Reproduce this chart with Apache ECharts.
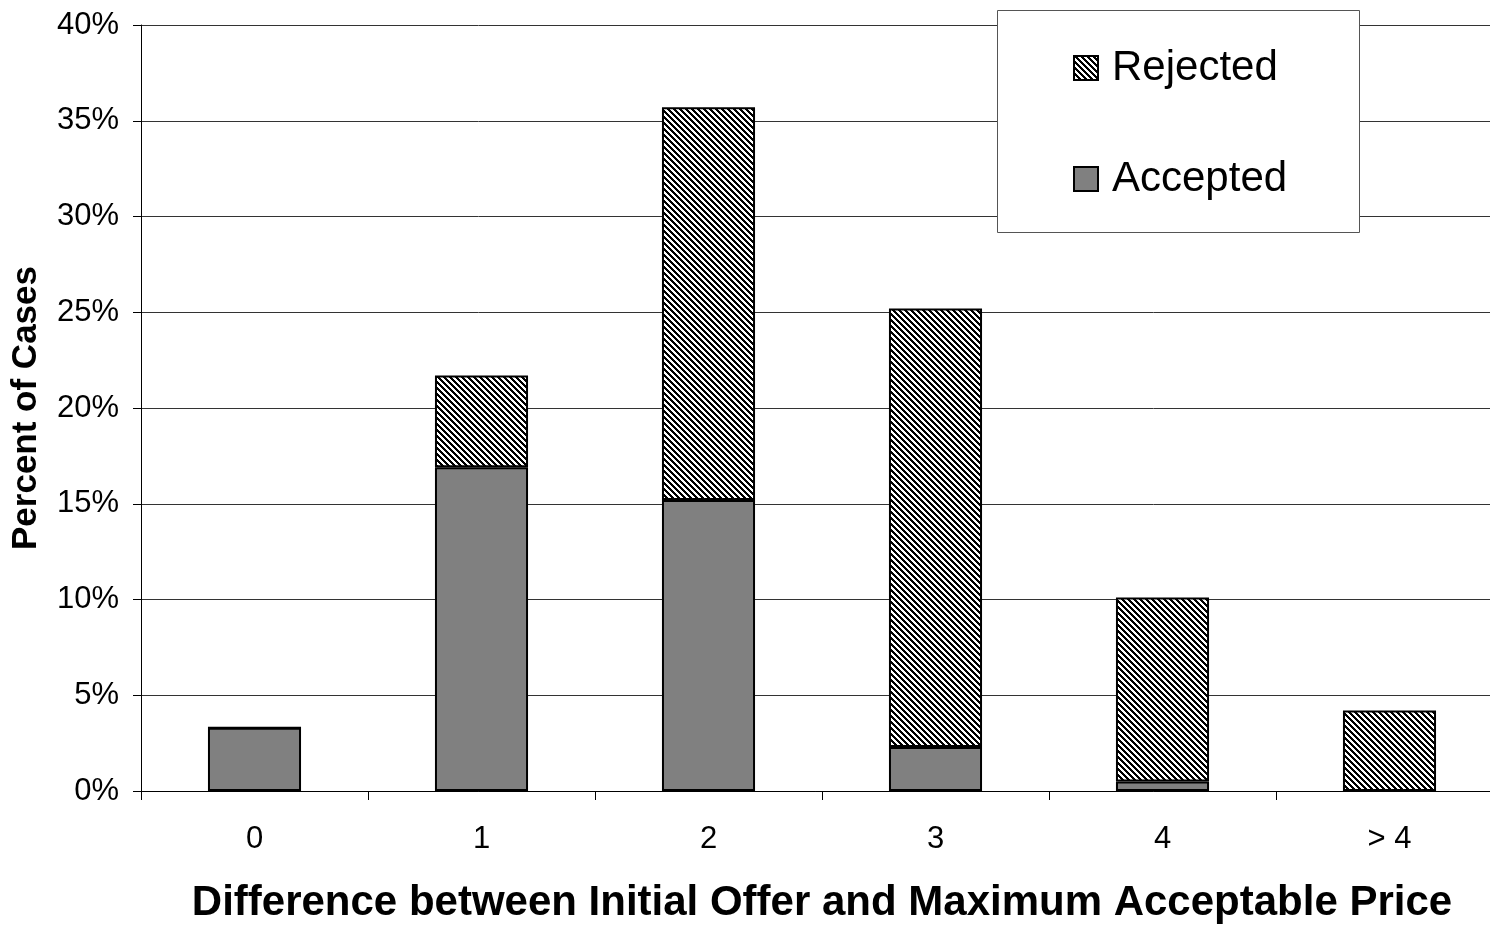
<!DOCTYPE html>
<html>
<head>
<meta charset="utf-8">
<script src="https://cdn.jsdelivr.net/npm/echarts@6/dist/echarts.min.js"></script>
<style>
  html, body { margin: 0; padding: 0; background: #fff; }
  #chart { width: 1490px; height: 928px; }
</style>
</head>
<body>
<div id="chart"></div>
<script>
// Difference categories on the x axis
const categories = ['0', '1', '2', '3', '4', '> 4'];
// Percent of cases, stacked: accepted at the bottom, rejected on top
const accepted = [3.3, 16.9, 15.2, 2.3, 0.5, 0];
const rejected = [0, 4.8, 20.5, 22.9, 9.6, 4.2];
const yTicks = [0, 5, 10, 15, 20, 25, 30, 35, 40];

const FONT = '"Liberation Sans", Arial, Helvetica, sans-serif';

// Diagonal hatch fill (lines running top-left to bottom-right)
function hatchPattern() {
  const size = 6;
  const c = document.createElement('canvas');
  c.width = size; c.height = size;
  const ctx = c.getContext('2d');
  ctx.fillStyle = '#fff';
  ctx.fillRect(0, 0, size, size);
  ctx.fillStyle = '#000';
  for (let y = 0; y < size; y++) {
    for (let x = 0; x < size; x++) {
      const d = ((x - y) % size + size) % size;
      if (d < 3) ctx.fillRect(x, y, 1, 1);
    }
  }
  return { image: c, repeat: 'repeat' };
}

const chart = echarts.init(document.getElementById('chart'), null, { renderer: 'canvas' });

chart.setOption({
  animation: false,
  backgroundColor: '#fff',
  // plot area runs slightly past the right edge of the canvas
  grid: { left: 141, right: -13, top: 25, bottom: 137, containLabel: false, outerBoundsMode: 'none' },
  graphic: [{
    type: 'rect',
    z: 50,
    shape: { x: 997.5, y: 10.5, width: 362, height: 222 },
    style: { fill: '#fff', stroke: '#555', lineWidth: 1 }
  }],
  legend: {
    z: 60,
    data: ['Rejected', 'Accepted'],
    orient: 'vertical',
    left: 1068,
    top: 40,
    itemWidth: 24,
    itemHeight: 24,
    itemGap: 65,
    icon: 'rect',
    textStyle: { fontFamily: FONT, fontSize: 42, color: '#000', lineHeight: 46, padding: [0, 0, 0, 9] }
  },
  xAxis: {
    type: 'category',
    data: categories,
    axisLine: { show: true, lineStyle: { color: '#000', width: 1 } },
    axisTick: { show: true, length: 9, interval: 0, lineStyle: { color: '#000' } },
    axisLabel: { margin: 33, fontFamily: FONT, fontSize: 31, color: '#000' },
    name: 'Difference between Initial Offer and Maximum Acceptable Price',
    nameLocation: 'middle',
    nameGap: 91,
    nameTextStyle: { fontFamily: FONT, fontSize: 42, fontWeight: 'bold', color: '#000' }
  },
  yAxis: {
    type: 'value',
    min: 0,
    max: 40,
    interval: 5,
    axisLine: { show: true, lineStyle: { color: '#000', width: 1 } },
    axisTick: { show: true, length: 8, lineStyle: { color: '#000' } },
    splitLine: { show: true, lineStyle: { color: '#333', width: 1 } },
    axisLabel: {
      margin: 22, fontFamily: FONT, fontSize: 31, color: '#000',
      formatter: v => (yTicks.indexOf(v) >= 0 ? v + '%' : '')
    },
    name: 'Percent of Cases',
    nameLocation: 'middle',
    nameGap: 97,
    nameTextStyle: { fontFamily: FONT, fontSize: 35, fontWeight: 'bold', color: '#000' }
  },
  series: [
    {
      name: 'Accepted',
      type: 'bar',
      stack: 'total',
      data: accepted,
      barWidth: '41%',
      itemStyle: { color: '#808080', borderColor: '#000', borderWidth: 2 }
    },
    {
      name: 'Rejected',
      type: 'bar',
      stack: 'total',
      data: rejected,
      barWidth: '41%',
      itemStyle: { color: hatchPattern(), borderColor: '#000', borderWidth: 2 }
    }
  ]
});
</script>
</body>
</html>
